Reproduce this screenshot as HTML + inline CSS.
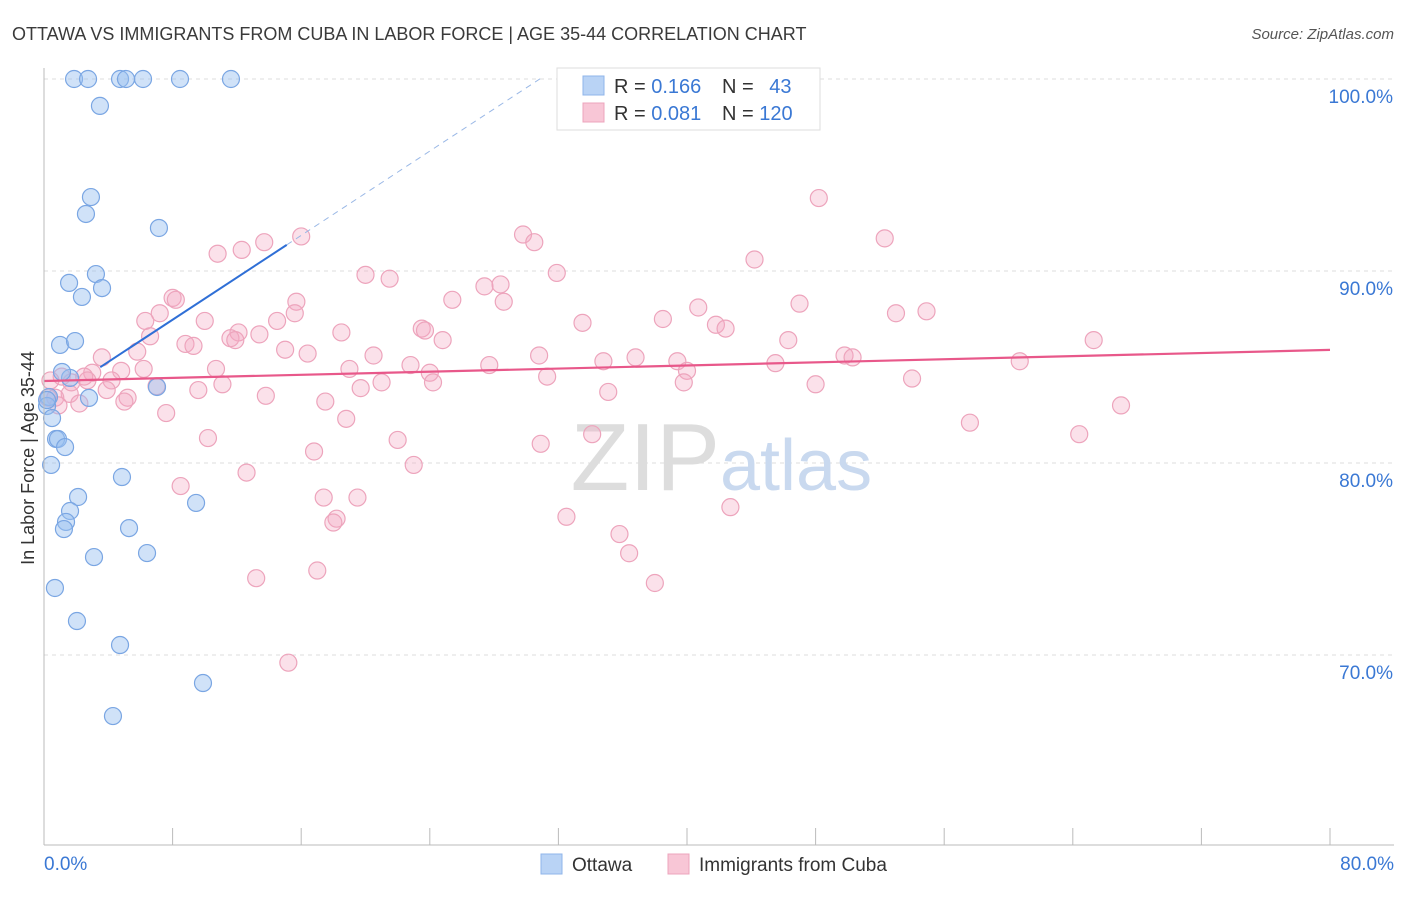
<!DOCTYPE html>
<html><head><meta charset="utf-8"><style>
body{margin:0;background:#fff;font-family:"Liberation Sans",sans-serif}
svg text{font-family:"Liberation Sans",sans-serif}
</style></head><body>
<svg id="chart" width="1406" height="892" xmlns="http://www.w3.org/2000/svg">
<text x="12" y="40" font-size="18" fill="#3a3a3a">OTTAWA VS IMMIGRANTS FROM CUBA IN LABOR FORCE | AGE 35-44 CORRELATION CHART</text>
<text x="1394" y="39" font-size="15" fill="#555" font-style="italic" text-anchor="end">Source: ZipAtlas.com</text>
<g id="grid"></g>
<text x="720" y="490" font-size="96" fill="#ddd" text-anchor="end" font-family="Liberation Serif">ZIP</text>
<text x="720" y="490" font-size="72" fill="#c9d9ef">atlas</text>
<g id="pts"></g>
<g id="lines"></g>
<g id="axes"></g>
<text x="34" y="458" font-size="18" fill="#333" text-anchor="middle" transform="rotate(-90 34 458)">In Labor Force | Age 35-44</text>
<g>
<rect x="557" y="68" width="263" height="62" fill="#fff" stroke="#ddd"/>
<rect x="583" y="76" width="21" height="19" fill="#b9d3f5" stroke="#8fb5ea"/>
<rect x="583" y="103" width="21" height="19" fill="#f8c6d6" stroke="#eda4bc"/>
<text x="614" y="93" font-size="20" fill="#333">R = <tspan fill="#3a78d4">0.166</tspan></text>
<text x="722" y="93" font-size="20" fill="#333">N = <tspan fill="#3a78d4" dx="10">43</tspan></text>
<text x="614" y="120" font-size="20" fill="#333">R = <tspan fill="#3a78d4">0.081</tspan></text>
<text x="722" y="120" font-size="20" fill="#333">N = <tspan fill="#3a78d4">120</tspan></text>
</g>
<g>
<rect x="541" y="854" width="21" height="20" fill="#b9d3f5" stroke="#8fb5ea"/>
<text x="572" y="871" font-size="19" fill="#333">Ottawa</text>
<rect x="668" y="854" width="21" height="20" fill="#f8c6d6" stroke="#eda4bc"/>
<text x="699" y="871" font-size="19" fill="#333">Immigrants from Cuba</text>
</g>
</svg>
<script>
const blueX=[1.87,2.74,4.73,5.10,6.16,8.46,11.63,3.48,2.92,2.61,7.15,3.23,1.56,3.61,2.36,1.0,1.93,1.62,1.12,2.8,7.03,0.31,0.19,0.5,0.75,0.87,1.31,0.44,4.85,2.12,1.62,1.37,1.24,5.29,9.46,3.11,6.41,0.68,2.05,4.73,9.89,4.29,0.19];
const blueY=[100,100,100,100,100,100,100,98.6,93.85,92.97,92.24,89.84,89.38,89.11,88.65,86.15,86.35,84.43,84.74,83.39,83.96,83.44,82.97,82.34,81.25,81.25,80.83,79.9,79.27,78.23,77.5,76.93,76.56,76.61,77.92,75.1,75.31,73.49,71.77,70.52,68.54,66.82,83.28];
const pinkX=[48.2,29.8,30.5,52.3,13.7,12.3,10.8,44.2,16.0,31.9,20.0,21.5,28.4,27.4,8.0,8.2,25.4,28.6,15.7,40.7,47.0,7.2,15.6,54.9,53.0,6.3,10.0,14.5,33.5,38.5,41.8,42.4,23.5,23.7,18.5,12.1,13.4,11.6,11.9,6.6,24.8,65.3,46.3,8.8,9.3,15.0,5.8,16.4,3.6,20.5,30.8,36.8,34.8,39.4,49.8,50.3,60.7,45.5,22.8,27.7,40.0,24.0,10.7,19.0,6.2,4.8,3.0,2.5,1.1,0.4,31.3,21.0,24.2,11.1,4.2,39.8,48.0,54.0,19.7,9.6,3.9,1.6,13.8,5.2,35.1,0.7,0.25,5.0,2.2,0.9,17.5,67.0,7.6,18.8,57.6,64.4,34.1,10.2,22.0,30.9,16.8,23.0,12.6,8.5,17.4,19.5,42.7,32.5,18.2,18.0,35.8,36.4,17.0,13.2,38.0,15.2,1.7,2.7,7.0];
const pinkY=[93.8,91.9,91.5,91.7,91.5,91.1,90.9,90.6,91.8,89.9,89.8,89.6,89.3,89.2,88.6,88.5,88.5,88.4,88.4,88.1,88.3,87.8,87.8,87.9,87.8,87.4,87.4,87.4,87.3,87.5,87.2,87.0,87.0,86.9,86.8,86.8,86.7,86.5,86.4,86.6,86.4,86.4,86.4,86.2,86.1,85.9,85.8,85.7,85.5,85.6,85.6,85.5,85.3,85.3,85.6,85.5,85.3,85.2,85.1,85.1,84.8,84.7,84.9,84.9,84.9,84.8,84.7,84.5,84.5,84.3,84.5,84.2,84.2,84.1,84.3,84.2,84.1,84.4,83.9,83.8,83.8,83.6,83.5,83.4,83.7,83.4,83.4,83.2,83.1,83.0,83.2,83.0,82.6,82.3,82.1,81.5,81.5,81.3,81.2,81.0,80.6,79.9,79.5,78.8,78.2,78.2,77.7,77.2,77.1,76.9,76.3,75.3,74.4,74.0,73.75,69.6,84.2,84.3,84.0];
const yTicks=[100,90,80,70];
const yTickLabels=["100.0%","90.0%","80.0%","70.0%"];
const xTickLabels=["0.0%","80.0%"];
const blueTrend=[83.07,0.549]; // intercept, slope
const pinkTrend=[84.27,85.89]; // y at x=0, y at x=80
const NS="http://www.w3.org/2000/svg";
const sx=v=>44+v/80*1286;
const sy=v=>79+(100-v)*19.2;
function mk(tag,attrs,parent){const e=document.createElementNS(NS,tag);for(const k in attrs)e.setAttribute(k,attrs[k]);parent.appendChild(e);return e;}
const grid=document.getElementById('grid'),axes=document.getElementById('axes'),pts=document.getElementById('pts'),lines=document.getElementById('lines');
yTicks.forEach((t,i)=>{
  const l=mk('line',{x1:44,x2:1394,y1:sy(t),y2:sy(t),stroke:'#ddd','stroke-dasharray':'4,4'},grid);
  
  
  const tx=mk('text',{x:1393,y:sy(t)+24,'font-size':19,fill:'#3a78d4','text-anchor':'end'},axes);
  tx.textContent=yTickLabels[i];
  
  
});
mk('line',{x1:44,x2:44,y1:68,y2:845,stroke:'#bbb'},axes);
mk('line',{x1:44,x2:1394,y1:845,y2:845,stroke:'#bbb'},axes);
for(let i=0;i<=10;i++){mk('line',{x1:sx(i*8),x2:sx(i*8),y1:828,y2:845,stroke:'#bbb'},axes);}
const xl0=mk('text',{x:44,y:870,'font-size':19,fill:'#3a78d4'},axes);xl0.textContent=xTickLabels[0];


const xl1=mk('text',{x:1394,y:870,'font-size':19,fill:'#3a78d4','text-anchor':'end'},axes);xl1.textContent=xTickLabels[1];


pinkX.forEach((x,i)=>{
  const c=mk('circle',{cx:sx(x),cy:sy(pinkY[i]),r:8.5,fill:'rgba(244,170,196,0.35)',stroke:'#eda4bc','stroke-width':1.2},pts);
  
  
});
blueX.forEach((x,i)=>{
  const c=mk('circle',{cx:sx(x),cy:sy(blueY[i]),r:8.5,fill:'rgba(150,190,240,0.45)',stroke:'#7aa6e3','stroke-width':1.2},pts);
  
  
});
const bl=x=>blueTrend[0]+blueTrend[1]*x;
const b1=mk('line',{x1:sx(3.5),y1:sy(bl(3.5)),x2:sx(15.1),y2:sy(bl(15.1)),stroke:'#2f6fd6','stroke-width':2},lines);


const b2=mk('line',{x1:sx(15.1),y1:sy(bl(15.1)),x2:sx(30.9),y2:sy(bl(30.9)),stroke:'#9ab8e6','stroke-width':1,'stroke-dasharray':'6,5'},lines);


const p1=mk('line',{x1:sx(0),y1:sy(pinkTrend[0]),x2:sx(80),y2:sy(pinkTrend[1]),stroke:'#e8588a','stroke-width':2.2},lines);


</script>
</body></html>
